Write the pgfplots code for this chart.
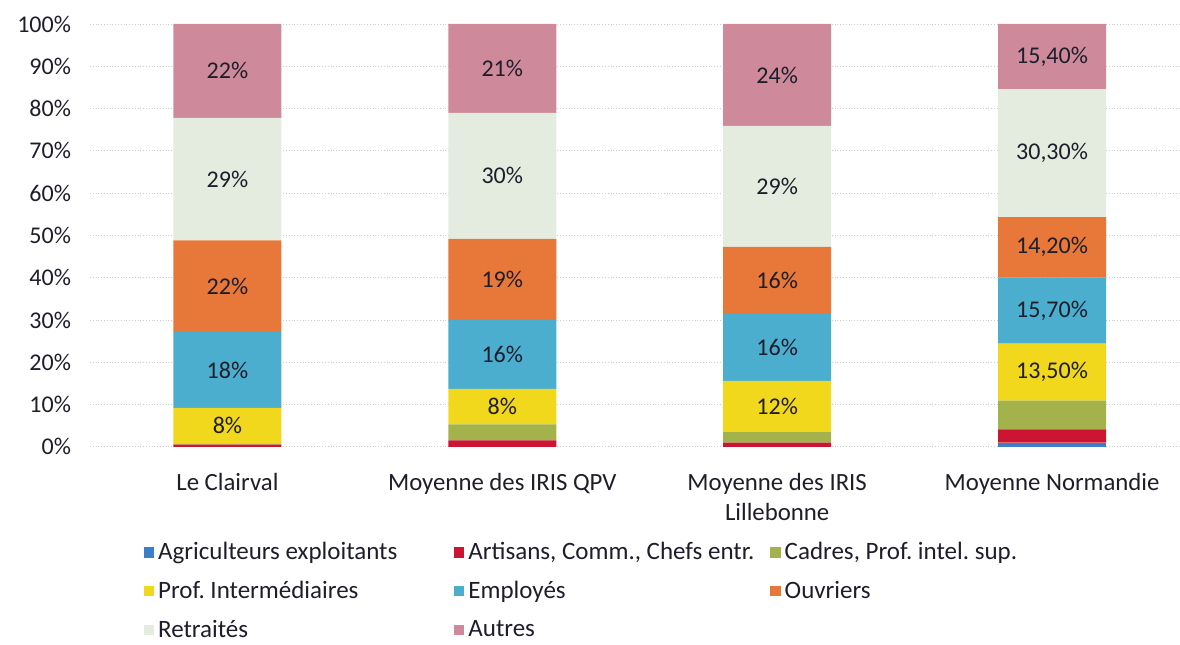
\documentclass[border=0pt]{standalone}
\usepackage{fontspec}
\setmainfont{Carlito}
\usepackage{pgfplots}
\usepackage{pgfplotstable}
\pgfplotsset{compat=1.18}
\frenchspacing

\definecolor{cagri}{HTML}{3A7FC7}
\definecolor{cart}{HTML}{CC1533}
\definecolor{ccad}{HTML}{A3B24A}
\definecolor{cprof}{HTML}{F2D81C}
\definecolor{cemp}{HTML}{4BAECF}
\definecolor{couv}{HTML}{E8773A}
\definecolor{cret}{HTML}{E4ECE0}
\definecolor{caut}{HTML}{CE8A9A}
\definecolor{txt}{HTML}{1E1E2A}

% one row per zone, stacked shares in %
\pgfplotstableread{
x agri art cad prof emp  ouv  ret  aut  lprof lemp  louv  lret  laut
0 0.0  0.5 0.2 8.5  17.9 21.7 29.0 22.2 8     18    22    29    22
1 0.0  1.5 3.8 8.4  16.3 19.2 29.8 21.0 8     16    19    30    21
2 0.0  1.0 2.5 12.1 15.8 15.9 28.6 24.1 12    16    16    29    24
3 1.0  3.1 6.8 13.5 15.7 14.2 30.3 15.4 13,50 15,70 14,20 30,30 15,40
}\data

% label in each stacked piece (stacked ybar already puts it mid-piece)
\pgfplotsset{
  lab/.style={
    nodes near coords={\pgfplotspointmeta\%},
    point meta=explicit symbolic,
    every node near coord/.append style={anchor=center, text=txt,
      font=\fontsize{12}{14}\selectfont},
  },
}

\begin{document}
\begin{tikzpicture}
\begin{axis}[
  scale only axis,
  width=545pt, height=211.5pt,
  ybar stacked,
  bar width=0.393,
  xmin=-0.5, xmax=3.464,
  ymin=0, ymax=100,
  xtick={0,1,2,3},
  xticklabels={Le Clairval, Moyenne des IRIS QPV, Moyenne des IRIS\\Lillebonne, Moyenne Normandie},
  xticklabel style={align=center, yshift=-9.5pt, text=txt, font=\fontsize{12.4}{15}\selectfont},
  ytick={0,10,...,100},
  yticklabel={\pgfmathprintnumber{\tick}\%},
  yticklabel style={text=txt, xshift=-6pt, font=\fontsize{12}{15}\selectfont},
  /pgf/number format/assume math mode=true,
  major tick length=0pt,
  axis line style={draw=none},
  ymajorgrids=true,
  major grid style={gray!40, densely dotted},
  legend columns=3,
  legend cell align=left,
  legend style={at={(0.049,-0.215)}, anchor=north west, draw=none, fill=none,
    inner sep=0pt, row sep=5.3pt, font=\fontsize{12.5}{14}\selectfont, text=txt},
  legend image code/.code={\fill[#1] (0pt,-2.6pt) rectangle (5.2pt,2.6pt);},
]
\addplot[fill=cagri, draw=none] table[x=x, y=agri]{\data};
\addlegendentry{\makebox[146pt][l]{Agriculteurs exploitants}}
\addplot[fill=cart, draw=none] table[x=x, y=art]{\data};
\addlegendentry{\makebox[149pt][l]{Artisans, Comm., Chefs entr.}}
\addplot[fill=ccad, draw=none] table[x=x, y=cad]{\data};
\addlegendentry{Cadres, Prof. intel. sup.}
\addplot[fill=cprof, draw=none, lab] table[x=x, y=prof, meta=lprof]{\data};
\addlegendentry{\makebox[146pt][l]{Prof. Intermédiaires}}
\addplot[fill=cemp, draw=none, lab] table[x=x, y=emp, meta=lemp]{\data};
\addlegendentry{\makebox[149pt][l]{Employés}}
\addplot[fill=couv, draw=none, lab] table[x=x, y=ouv, meta=louv]{\data};
\addlegendentry{Ouvriers}
\addplot[fill=cret, draw=none, lab] table[x=x, y=ret, meta=lret]{\data};
\addlegendentry{\makebox[146pt][l]{Retraités}}
\addplot[fill=caut, draw=none, lab] table[x=x, y=aut, meta=laut]{\data};
\addlegendentry{\makebox[149pt][l]{Autres}}
\end{axis}
% page margins as in the reference
\path (current axis.south west) ++(-45pt,-95.5pt);
\path (current axis.north west) ++(0pt,12pt);
\end{tikzpicture}
\end{document}
